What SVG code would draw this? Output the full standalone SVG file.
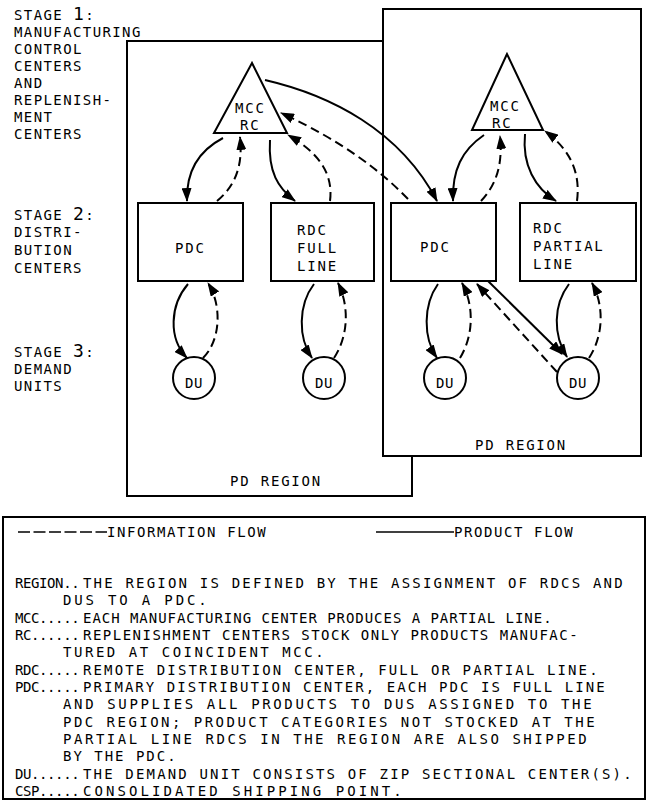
<svg xmlns="http://www.w3.org/2000/svg" width="651" height="801" viewBox="0 0 651 801">
<defs>
<style>
.t{font-family:"DejaVu Sans Mono","Liberation Mono",monospace;font-size:14px;fill:#000;letter-spacing:1.4px}
.n{letter-spacing:1.8px}
.big{font-size:18px}
.frame{fill:none;stroke:#000;stroke-width:2}
.wframe{fill:#fff;stroke:#000;stroke-width:2}
.node{fill:#fff;stroke:#000;stroke-width:2}
.c{fill:none;stroke:#000;stroke-width:2}
.prod{marker-end:url(#ah)}
.info{stroke-dasharray:9 5;marker-end:url(#ah)}
</style>
<marker id="ah" markerUnits="userSpaceOnUse" markerWidth="14" markerHeight="10" refX="13" refY="5" orient="auto">
<path d="M0,0 L14,5 L0,10 z" fill="#000"/>
</marker>
</defs>
<rect width="651" height="801" fill="#fff"/>

<g id="stage-labels" class="t">
<text x="14" y="20">STAGE <tspan class="big">1</tspan>:</text>
<text x="14" y="37">MANUFACTURING</text>
<text x="14" y="54">CONTROL</text>
<text x="14" y="71">CENTERS</text>
<text x="14" y="88">AND</text>
<text x="14" y="105">REPLENISH-</text>
<text x="14" y="122">MENT</text>
<text x="14" y="139">CENTERS</text>
<text x="14" y="220">STAGE <tspan class="big">2</tspan>:</text>
<text x="14" y="237">DISTRI-</text>
<text x="14" y="255">BUTION</text>
<text x="14" y="273">CENTERS</text>
<text x="14" y="357">STAGE <tspan class="big">3</tspan>:</text>
<text x="14" y="374">DEMAND</text>
<text x="14" y="391">UNITS</text>
</g>

<g id="region-left">
<rect class="frame" x="127" y="41" width="285" height="455"/>
<text class="t n" x="230" y="486">PD REGION</text>
</g>
<g id="region-right">
<rect class="wframe" x="383" y="9" width="258" height="447"/>
<text class="t n" x="475" y="450">PD REGION</text>
</g>

<g id="mcc-left">
<polygon class="node" points="252,63 214,133 287,133"/>
<text class="t n" x="235" y="113">MCC</text>
<text class="t n" x="240" y="130">RC</text>
</g>
<g id="mcc-right">
<polygon class="node" points="507,54 472,130 543,130"/>
<text class="t n" x="490" y="111">MCC</text>
<text class="t n" x="492" y="128">RC</text>
</g>
<g id="pdc-left">
<rect class="node" x="138" y="203" width="105" height="78"/>
<text class="t n" x="175" y="253">PDC</text>
</g>
<g id="rdc-full">
<rect class="node" x="271" y="203" width="103" height="78"/>
<text class="t n" x="297" y="235">RDC</text>
<text class="t n" x="297" y="253">FULL</text>
<text class="t n" x="297" y="271">LINE</text>
</g>
<g id="pdc-right">
<rect class="node" x="391" y="203" width="105" height="78"/>
<text class="t n" x="420" y="252">PDC</text>
</g>
<g id="rdc-partial">
<rect class="node" x="520" y="203" width="116" height="78"/>
<text class="t n" x="533" y="233">RDC</text>
<text class="t n" x="533" y="251">PARTIAL</text>
<text class="t n" x="533" y="269">LINE</text>
</g>
<g id="du1">
<circle class="node" cx="194" cy="378" r="21"/>
<text class="t" x="194" y="388" text-anchor="middle" style="letter-spacing:0.5px">DU</text>
</g>
<g id="du2">
<circle class="node" cx="324" cy="378" r="21"/>
<text class="t" x="324" y="388" text-anchor="middle" style="letter-spacing:0.5px">DU</text>
</g>
<g id="du3">
<circle class="node" cx="445" cy="378" r="21"/>
<text class="t" x="445" y="388" text-anchor="middle" style="letter-spacing:0.5px">DU</text>
</g>
<g id="du4">
<circle class="node" cx="578" cy="378" r="21"/>
<text class="t" x="578" y="388" text-anchor="middle" style="letter-spacing:0.5px">DU</text>
</g>

<g id="connectors">
<path class="c prod" d="M223,138 C200,150 186,170 187,201"/>
<path class="c info" d="M217,201 C236,185 243,165 240,137"/>
<path class="c prod" d="M270,140 C268,172 278,188 295,201"/>
<path class="c info" d="M330,201 C334,170 314,150 288,135"/>
<path class="c prod" d="M265,80 C330,95 400,130 437,201"/>
<path class="c info" d="M408,199 C380,170 340,140 281,113"/>
<path class="c prod" d="M484,135 C462,150 452,170 453,201"/>
<path class="c info" d="M481,201 C496,185 503,165 500,136"/>
<path class="c prod" d="M525,134 C522,165 535,188 556,201"/>
<path class="c info" d="M577,201 C581,170 568,148 545,131"/>
<path class="c prod" d="M188,284 C170,305 168,338 187,358"/>
<path class="c info" d="M203,358 C221,340 222,305 208,283"/>
<path class="c prod" d="M314,284 C298,305 298,338 312,358"/>
<path class="c info" d="M334,358 C349,335 349,305 338,283"/>
<path class="c prod" d="M438,284 C423,305 423,338 437,358"/>
<path class="c info" d="M460,358 C474,335 474,305 462,283"/>
<path class="c prod" d="M488,281 L562,354"/>
<path class="c info" d="M557,372 L477,284"/>
<path class="c prod" d="M569,284 C553,305 553,335 567,357"/>
<path class="c info" d="M589,358 C604,335 604,305 592,283"/>
</g>

<g id="legend">
<rect class="frame" x="3" y="517" width="642" height="282"/>
<line x1="18" y1="532" x2="107" y2="532" stroke="#000" stroke-width="1.5" stroke-dasharray="12 3.5"/>
<text class="t" x="107" y="537" textLength="160" lengthAdjust="spacing">INFORMATION FLOW</text>
<line x1="376" y1="532" x2="454" y2="532" stroke="#000" stroke-width="1.5"/>
<text class="t" x="454" y="537" textLength="120" lengthAdjust="spacing">PRODUCT FLOW</text>
<g class="t">
<text x="15" y="588" textLength="66" lengthAdjust="spacing">REGION..</text>
<text x="83" y="588" textLength="541" lengthAdjust="spacing">THE REGION IS DEFINED BY THE ASSIGNMENT OF RDCS AND</text>
<text x="63" y="605.3" textLength="145" lengthAdjust="spacing">DUS TO A PDC.</text>
<text x="15" y="622.7" textLength="66" lengthAdjust="spacing">MCC.....</text>
<text x="83" y="622.7" textLength="470" lengthAdjust="spacing">EACH MANUFACTURING CENTER PRODUCES A PARTIAL LINE.</text>
<text x="15" y="640" textLength="66" lengthAdjust="spacing">RC......</text>
<text x="83" y="640" textLength="496" lengthAdjust="spacing">REPLENISHMENT CENTERS STOCK ONLY PRODUCTS MANUFAC-</text>
<text x="63" y="657.3" textLength="262" lengthAdjust="spacing">TURED AT COINCIDENT MCC.</text>
<text x="15" y="674.7" textLength="66" lengthAdjust="spacing">RDC.....</text>
<text x="83" y="674.7" textLength="516" lengthAdjust="spacing">REMOTE DISTRIBUTION CENTER, FULL OR PARTIAL LINE.</text>
<text x="15" y="692" textLength="66" lengthAdjust="spacing">PDC.....</text>
<text x="83" y="692" textLength="523" lengthAdjust="spacing">PRIMARY DISTRIBUTION CENTER, EACH PDC IS FULL LINE</text>
<text x="63" y="709.3" textLength="530" lengthAdjust="spacing">AND SUPPLIES ALL PRODUCTS TO DUS ASSIGNED TO THE</text>
<text x="63" y="726.7" textLength="533" lengthAdjust="spacing">PDC REGION; PRODUCT CATEGORIES NOT STOCKED AT THE</text>
<text x="63" y="744" textLength="525" lengthAdjust="spacing">PARTIAL LINE RDCS IN THE REGION ARE ALSO SHIPPED</text>
<text x="63" y="761.3" textLength="114" lengthAdjust="spacing">BY THE PDC.</text>
<text x="15" y="778.7" textLength="66" lengthAdjust="spacing">DU......</text>
<text x="83" y="778.7" textLength="550" lengthAdjust="spacing">THE DEMAND UNIT CONSISTS OF ZIP SECTIONAL CENTER(S).</text>
<text x="15" y="796" textLength="66" lengthAdjust="spacing">CSP.....</text>
<text x="83" y="796" textLength="320" lengthAdjust="spacing">CONSOLIDATED SHIPPING POINT.</text>
</g>
</g>
</svg>
